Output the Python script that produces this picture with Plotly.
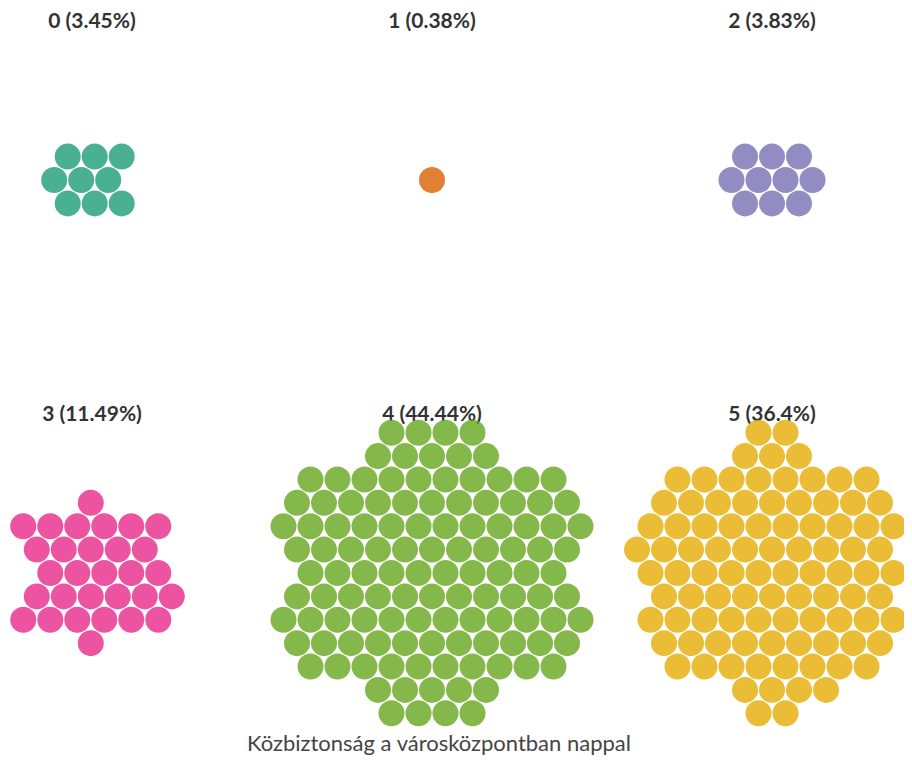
import math
import plotly.graph_objects as go

# ---------------- data ----------------
categories = ["0", "1", "2", "3", "4", "5"]
counts = [9, 1, 10, 30, 116, 95]
colors = ["#1b9e77", "#d95f02", "#7570b3", "#e7298a", "#66a61e", "#e6ab02"]
axis_label = "Közbiztonság a városközpontban nappal"

total = sum(counts)
percents = [round(100 * c / total, 2) for c in counts]

# ---------------- layout constants ----------------
WIN_W, WIN_H = 912, 765
BODY_MARGIN = 8        # default page margin around the plot div
W, H = WIN_W - 2 * BODY_MARGIN, WIN_H - 2 * BODY_MARGIN
R_PACK = 13.5          # radius used for packing (radius + padding/2)
DOT_DIAM = 26          # drawn diameter (px)
COL_X = [92, 432, 772]
ROW_Y = [180, 573]
TITLE_DY = -157


# ---------------- circle packing (port of d3.packSiblings) ----------------
class Node:
    __slots__ = ("c", "next", "previous")

    def __init__(self, c):
        self.c = c
        self.next = None
        self.previous = None


def place(b, a, c):
    dx = b["x"] - a["x"]
    dy = b["y"] - a["y"]
    d2 = dx * dx + dy * dy
    if d2:
        a2 = a["r"] + c["r"]
        a2 *= a2
        b2 = b["r"] + c["r"]
        b2 *= b2
        if a2 > b2:
            x = (d2 + b2 - a2) / (2 * d2)
            y = math.sqrt(max(0, b2 / d2 - x * x))
            c["x"] = b["x"] - x * dx - y * dy
            c["y"] = b["y"] - x * dy + y * dx
        else:
            x = (d2 + a2 - b2) / (2 * d2)
            y = math.sqrt(max(0, a2 / d2 - x * x))
            c["x"] = a["x"] + x * dx - y * dy
            c["y"] = a["y"] + x * dy + y * dx
    else:
        c["x"] = a["x"] + c["r"]
        c["y"] = a["y"]


def intersects(a, b):
    dr = a["r"] + b["r"] - 1e-6
    dx = b["x"] - a["x"]
    dy = b["y"] - a["y"]
    return dr > 0 and dr * dr > dx * dx + dy * dy


def score(node):
    a = node.c
    b = node.next.c
    ab = a["r"] + b["r"]
    dx = (a["x"] * b["r"] + b["x"] * a["r"]) / ab
    dy = (a["y"] * b["r"] + b["y"] * a["r"]) / ab
    return dx * dx + dy * dy


def mec(pts):
    def inside(cir, p):
        return math.hypot(p[0] - cir[0], p[1] - cir[1]) <= cir[2] + 1e-7

    def c2(p, q):
        cx, cy = (p[0] + q[0]) / 2, (p[1] + q[1]) / 2
        return (cx, cy, math.hypot(p[0] - cx, p[1] - cy))

    def c3(p, q, s):
        ax, ay = p
        bx, by = q
        cx, cy = s
        d = 2 * (ax * (by - cy) + bx * (cy - ay) + cx * (ay - by))
        if abs(d) < 1e-9:
            return max([c2(p, q), c2(p, s), c2(q, s)], key=lambda t: t[2])
        ux = ((ax * ax + ay * ay) * (by - cy) + (bx * bx + by * by) * (cy - ay) + (cx * cx + cy * cy) * (ay - by)) / d
        uy = ((ax * ax + ay * ay) * (cx - bx) + (bx * bx + by * by) * (ax - cx) + (cx * cx + cy * cy) * (bx - ax)) / d
        return (ux, uy, math.hypot(ax - ux, ay - uy))

    cir = None
    for i, p in enumerate(pts):
        if cir is None or not inside(cir, p):
            cir = (p[0], p[1], 0.0)
            for j in range(i):
                q = pts[j]
                if not inside(cir, q):
                    cir = c2(p, q)
                    for k in range(j):
                        s = pts[k]
                        if not inside(cir, s):
                            cir = c3(p, q, s)
    return cir


def pack_siblings(n, r):
    circles = [{"x": 0.0, "y": 0.0, "r": r} for _ in range(n)]
    if n == 0:
        return circles
    a = circles[0]
    if n > 1:
        b = circles[1]
        a["x"] = -b["r"]
        b["x"] = a["r"]
        b["y"] = 0.0
    if n > 2:
        place(circles[1], circles[0], circles[2])
        a = Node(circles[0])
        b = Node(circles[1])
        c = Node(circles[2])
        a.next = b
        c.previous = b
        b.next = c
        a.previous = c
        c.next = a
        b.previous = a
        i = 3
        while i < n:
            cc = circles[i]
            place(a.c, b.c, cc)
            c = Node(cc)
            j = b.next
            k = a.previous
            sj = b.c["r"]
            sk = a.c["r"]
            restart = False
            while True:
                if sj <= sk:
                    if intersects(j.c, c.c):
                        b = j
                        a.next = b
                        b.previous = a
                        restart = True
                        break
                    sj += j.c["r"]
                    j = j.next
                else:
                    if intersects(k.c, c.c):
                        a = k
                        a.next = b
                        b.previous = a
                        restart = True
                        break
                    sk += k.c["r"]
                    k = k.previous
                if j is k.next:
                    break
            if restart:
                continue
            c.previous = a
            c.next = b
            b.previous = c
            a.next = c
            b = c
            aa = score(a)
            c = c.next
            while c is not b:
                ca = score(c)
                if ca < aa:
                    a = c
                    aa = ca
                c = c.next
            b = a.next
            i += 1
    cx, cy, _ = mec([(c["x"], c["y"]) for c in circles])
    for c in circles:
        c["x"] -= cx
        c["y"] -= cy
    return circles


# ---------------- figure ----------------
fig = go.Figure()

# titles (drawn first so circles sit on top of them)
tx, ty, tt = [], [], []
for idx, (cat, pct) in enumerate(zip(categories, percents)):
    col, row = idx % 3, idx // 3
    tx.append(COL_X[col])
    ty.append(ROW_Y[row] + TITLE_DY)
    tt.append(f"<b>{cat} ({pct:g}%)</b>")
fig.add_trace(go.Scatter(
    x=tx, y=ty, text=tt, mode="text", hoverinfo="skip", showlegend=False,
    cliponaxis=False,
    textfont=dict(family="Lato, sans-serif", size=21, color="#333333"),
))

for idx, (cat, n) in enumerate(zip(categories, counts)):
    col, row = idx % 3, idx // 3
    pts = pack_siblings(n, R_PACK)
    fig.add_trace(go.Scatter(
        x=[COL_X[col] + p["x"] for p in pts],
        y=[ROW_Y[row] + p["y"] for p in pts],
        mode="markers",
        name=cat,
        showlegend=False,
        cliponaxis=False,
        marker=dict(size=DOT_DIAM, color=colors[idx], opacity=0.8, line=dict(width=0)),
        hovertemplate=f"{cat}: {n}<extra></extra>",
    ))

fig.add_annotation(
    x=439, y=742, xref="x", yref="y", text=axis_label, showarrow=False,
    font=dict(family="Lato, sans-serif", size=22, color="#454545"),
)

fig.update_layout(
    width=W, height=H,
    margin=dict(l=0, r=0, t=0, b=0),
    paper_bgcolor="white", plot_bgcolor="white",
    xaxis=dict(range=[BODY_MARGIN, BODY_MARGIN + W], visible=False, fixedrange=True),
    yaxis=dict(range=[BODY_MARGIN + H, BODY_MARGIN], visible=False, fixedrange=True),
)

fig.write_html("out.html")
